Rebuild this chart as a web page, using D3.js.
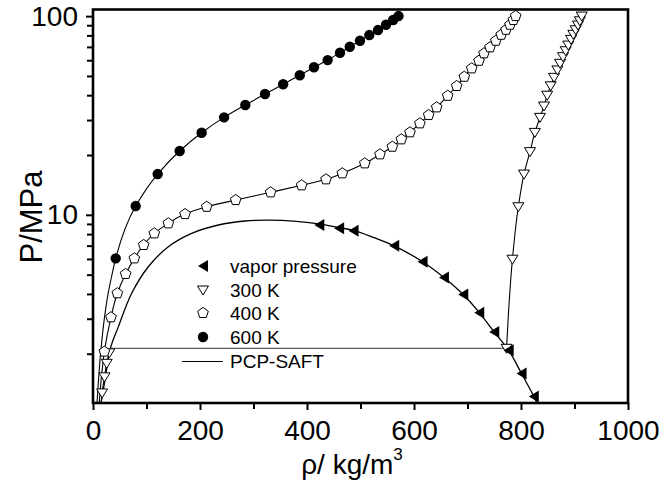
<!DOCTYPE html>
<html><head><meta charset="utf-8">
<script src="https://cdn.jsdelivr.net/npm/d3@7"></script>
<style>body{margin:0;background:#fff}svg{display:block}text{font-family:"Liberation Sans",Arial,Helvetica,sans-serif;fill:#000}</style>
</head><body><svg id="c" width="662" height="485"></svg>
<script>
// ---------- data ----------
const xTicks = [0, 200, 400, 600, 800, 1000];
const xMinor = [100, 300, 500, 700, 900];
const yTicks = [10, 100];
const yMinor = [2, 3, 4, 5, 6, 7, 8, 9, 20, 30, 40, 50, 60, 70, 80, 90];

// vapor pressure (liquid density vs saturation pressure)
const vapRho = [423, 460, 487, 563, 616, 656, 692, 722, 750, 777, 801, 824];
const vapP   = [8.89, 8.55, 8.32, 6.98, 5.81, 4.84, 3.97, 3.22, 2.57, 2.08, 1.59, 1.22];

// 300 K isotherm data
const t300Rho = [17, 21.5, 25.6, 30.5, 773, 784, 795, 805.6, 816.8, 826, 835.5, 843, 849, 855.5, 861.7, 868, 873, 878.5, 883.5, 888.4, 893.5, 897.8, 902.2, 906.5, 910, 913.5];
const t300P   = [1.27, 1.53, 1.79, 2.02, 2.13, 5.98, 10.98, 16.04, 20.8, 26.0, 30.95, 35.3, 40.0, 44.6, 49.2, 53.6, 57.9, 62.5, 67, 71.5, 76.4, 81, 85.4, 90.2, 94.8, 100.1];

// 400 K isotherm data
const t400Rho = [21.2, 33.6, 45.5, 61, 77.3, 94.7, 114.6, 140.8, 172, 212.5, 266.7, 332, 390, 435.5, 466, 508, 536.4, 559.5, 576.3, 592.5, 611, 627.4, 642.4, 663, 679.8, 694, 707.8, 721.5, 730.8, 742, 753, 763, 772, 779.4, 785.7, 790];
const t400P   = [2.05, 3.05, 4.03, 5.04, 6.04, 7.05, 8.07, 9.06, 10.09, 10.98, 11.87, 12.98, 14.08, 15.09, 16.18, 18.16, 20.16, 22.02, 23.99, 26.02, 28.87, 31.8, 34.75, 39.75, 44.5, 49.55, 54.6, 59.65, 65, 69.7, 75.2, 80.6, 85.4, 90.5, 95.6, 100.1];

// 600 K isotherm data
const t600Rho = [42.4, 79.8, 120.9, 162, 203, 245, 284.7, 321.5, 355.4, 386.5, 413, 438.6, 461.7, 480, 499, 516.5, 532.7, 547.7, 561, 571];
const t600P   = [6.04, 11.07, 16.04, 20.95, 25.9, 30.95, 35.7, 40.55, 45.4, 50.4, 55.3, 60.1, 65.4, 70.1, 75.2, 80.3, 85.1, 90.5, 95.6, 100.1];

// PCP-SAFT curves
const fit600LowRho = [7.5, 14.5, 21.5, 28.5, 35.5];
const fit600LowP   = [1.13, 2.05, 3.05, 4.05, 5.0];
const fit400LowRho = [11.5, 16];
const fit400LowP   = [1.13, 1.55];
const fit300VapRho = [15.5, 17, 21.5, 25.6, 30.5, 32.5];
const fit300VapP   = [1.13, 1.27, 1.53, 1.79, 2.02, 2.13];
const tieRho = [32.5, 773];
const tieP   = [2.13, 2.13];
const envRho = [14, 22, 32.5, 47.3, 72.3, 103.4, 140.8, 184.4, 234.3, 284, 330, 375, 423, 460, 487, 524, 563, 616, 656, 692, 722, 750, 777, 801, 824, 832];
const envP   = [1.1, 1.45, 2.13, 2.73, 4.03, 5.48, 6.91, 8.07, 8.89, 9.31, 9.4, 9.3, 9.0, 8.62, 8.36, 7.7, 6.98, 5.81, 4.84, 3.97, 3.22, 2.57, 2.08, 1.59, 1.22, 1.1];

const legendLabels = ["vapor pressure", "300 K", "400 K", "600 K", "PCP-SAFT"];

// ---------- drawing ----------
const svg = d3.select("#c");
const L = 93, R = 628, T = 9.5, B = 403;
const x = d3.scaleLinear().domain([0, 1000]).range([L, R]);
const y = d3.scaleLog().domain([1.13, 108]).range([B, T]);
const zip = (a, b) => a.map((v, i) => [v, b[i]]);

svg.append("defs").append("clipPath").attr("id", "clip")
  .append("rect").attr("x", L).attr("y", T).attr("width", R - L).attr("height", B - T);

const g = svg.append("g").attr("clip-path", "url(#clip)");
const lineMY = d3.line().x(d => x(d[0])).y(d => y(d[1])).curve(d3.curveMonotoneY);
const lineCR = d3.line().x(d => x(d[0])).y(d => y(d[1])).curve(d3.curveCatmullRom.alpha(0.5));
const lineL  = d3.line().x(d => x(d[0])).y(d => y(d[1]));

const fit600 = zip(fit600LowRho.concat(t600Rho), fit600LowP.concat(t600P));
const fit400 = zip(fit400LowRho.concat(t400Rho), fit400LowP.concat(t400P));
const fit300v = zip(fit300VapRho, fit300VapP);
const fit300l = zip(t300Rho.slice(4), t300P.slice(4));

const lineStyle = s => s.attr("fill", "none").attr("stroke", "#000").attr("stroke-width", 1.1);
g.append("path").attr("d", lineMY(fit600)).call(lineStyle);
g.append("path").attr("d", lineMY(fit400)).call(lineStyle);
g.append("path").attr("d", lineMY(fit300v)).call(lineStyle);
g.append("path").attr("d", lineMY(fit300l)).call(lineStyle);
g.append("path").attr("d", lineL(zip(tieRho, tieP))).attr("fill", "none").attr("stroke", "#333").attr("stroke-width", 1);
g.append("path").attr("d", lineCR(zip(envRho, envP))).attr("fill", "none").attr("stroke", "#000").attr("stroke-width", 1.3);

// marker shapes
function pent(cx, cy, r) {
  const pts = d3.range(5).map(i => { const a = -Math.PI / 2 + i * 2 * Math.PI / 5; return [cx + r * Math.cos(a), cy + r * Math.sin(a)]; });
  return "M" + pts.map(p => p.join(",")).join("L") + "Z";
}
function downTri(cx, cy) { return `M${cx-5.5},${cy-4}L${cx+5.5},${cy-4}L${cx},${cy+5}Z`; }
function leftTri(cx, cy) { return `M${cx-5},${cy}L${cx+5},${cy-6}L${cx+5},${cy+6}Z`; }

const m = svg.append("g");
zip(t300Rho, t300P).forEach(d => m.append("path").attr("d", downTri(x(d[0]), y(d[1]))).attr("fill", "#fff").attr("stroke", "#000").attr("stroke-width", 1));
zip(t400Rho, t400P).forEach(d => m.append("path").attr("d", pent(x(d[0]), y(d[1]), 5.6)).attr("fill", "#fff").attr("stroke", "#000").attr("stroke-width", 1));
zip(t600Rho, t600P).forEach(d => m.append("circle").attr("cx", x(d[0])).attr("cy", y(d[1])).attr("r", 5.2).attr("fill", "#000"));
zip(vapRho, vapP).forEach(d => m.append("path").attr("d", leftTri(x(d[0]), y(d[1]))).attr("fill", "#000"));

// axes
const fs = 28;
const ax = svg.append("g").attr("transform", `translate(0,${B})`);
ax.call(d3.axisBottom(x).tickValues(xMinor).tickSize(6).tickFormat(""));
ax.call(g2 => g2.append("g").call(d3.axisBottom(x).tickValues(xTicks).tickSize(7).tickPadding(10).tickFormat(d3.format("d"))));
const ay = svg.append("g").attr("transform", `translate(${L},0)`);
ay.call(d3.axisLeft(y).tickValues(yMinor).tickSize(6).tickFormat(""));
ay.call(g2 => g2.append("g").call(d3.axisLeft(y).tickValues(yTicks).tickSize(7).tickPadding(8).tickFormat(d3.format("d"))));
svg.selectAll(".domain").remove();
svg.selectAll(".tick line").attr("stroke", "#000").attr("stroke-width", 2);
svg.selectAll(".tick text").attr("font-size", fs).attr("font-family", '"Liberation Sans",Arial,sans-serif').attr("fill", "#000");

// frame
svg.append("rect").attr("x", L).attr("y", T).attr("width", R - L).attr("height", B - T)
  .attr("fill", "none").attr("stroke", "#000").attr("stroke-width", 2.6);

// titles
const xt = svg.append("text").attr("x", 352).attr("y", 474).attr("text-anchor", "middle").attr("font-size", fs);
xt.append("tspan").text("ρ/ kg/m");
xt.append("tspan").attr("font-size", 17).attr("dy", -14).text("3");
svg.append("text").attr("transform", `translate(42,217) rotate(-90)`).attr("text-anchor", "middle")
  .attr("font-size", 31).text("P/MPa");

// legend
const lx = 203, tx = 230, ly = [266, 290, 313, 337, 361.5], lfs = 19;
const lg = svg.append("g");
lg.append("path").attr("d", leftTri(lx, ly[0])).attr("fill", "#000");
lg.append("path").attr("d", downTri(lx, ly[1])).attr("fill", "#fff").attr("stroke", "#000");
lg.append("path").attr("d", pent(lx, ly[2], 5.6)).attr("fill", "#fff").attr("stroke", "#000");
lg.append("circle").attr("cx", lx).attr("cy", ly[3]).attr("r", 5.2).attr("fill", "#000");
lg.append("line").attr("x1", 182).attr("x2", 223).attr("y1", ly[4]).attr("y2", ly[4]).attr("stroke", "#000").attr("stroke-width", 1);
legendLabels.forEach((t, i) => lg.append("text").attr("x", tx).attr("y", ly[i] + lfs * 0.36).attr("font-size", lfs).text(t));
</script></body></html>
